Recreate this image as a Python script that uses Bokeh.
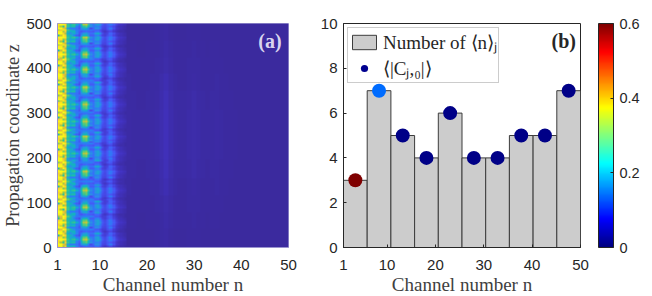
import numpy as np
from bokeh.embed import file_html
from bokeh.resources import INLINE
from bokeh.plotting import figure
from bokeh.layouts import row
from bokeh.models import (LinearColorMapper, ColorBar, FixedTicker, Label, Legend, LegendItem,
                          ColumnDataSource)
from bokeh.transform import linear_cmap

# ---- data ----
x_ticks = [1, 10, 20, 30, 40, 50]
z_ticks = [0, 100, 200, 300, 400, 500]
count_ticks = [0, 2, 4, 6, 8, 10]
cbar_ticks = [0, 0.2, 0.4, 0.6]

bin_left = [1, 5.9, 10.8, 15.7, 20.6, 25.5, 30.4, 35.3, 40.2, 45.1]
bin_right = [5.9, 10.8, 15.7, 20.6, 25.5, 30.4, 35.3, 40.2, 45.1, 50]
bin_count = [3, 7, 5, 4, 6, 4, 4, 5, 5, 7]
bin_center = [3.45, 8.35, 13.25, 18.15, 23.05, 27.95, 32.85, 37.75, 42.65, 47.55]
coupling = [0.6, 0.14, 0.005, 0.005, 0.005, 0.005, 0.005, 0.005, 0.005, 0.005]

# intensity across n = 1, 1.5, ... 15.5 at typical propagation phases (0..1 of the colour range)
profiles = {
    "A": [.97, 1, .98, .95, .6, .5, .58, .6, .45, .3, .55, .75, .8, .62, .35, .28, .35, .42, .35, .2, .15, .2, .28, .28, .2, .12, .08, .06, .05, .04],
    "B": [.9, .95, .7, .8, .55, .42, .45, .45, .3, .25, .5, .65, .68, .5, .3, .25, .38, .42, .3, .18, .14, .2, .3, .26, .18, .1, .07, .05, .04, .03],
    "C": [.55, .8, .98, .9, .55, .5, .4, .3, .2, .15, .35, .5, .52, .35, .2, .2, .3, .32, .22, .12, .1, .15, .2, .2, .12, .08, .05, .04, .03, .02],
    "D": [1, 1, .9, .75, .45, .35, .42, .45, .32, .18, .28, .38, .42, .32, .25, .28, .4, .45, .32, .16, .1, .12, .22, .22, .15, .08, .06, .04, .03, .02],
    "E": [.95, .97, .75, .88, .55, .45, .5, .5, .3, .2, .18, .22, .26, .22, .2, .18, .24, .26, .18, .1, .07, .1, .14, .14, .08, .05, .03, .02, .02, .01],
    "F": [.7, .85, 1, .95, .65, .55, .4, .35, .28, .25, .28, .3, .3, .3, .3, .25, .2, .2, .15, .1, .1, .16, .2, .18, .1, .06, .04, .03, .02, .01],
    "G": [1, 1, .85, .8, .4, .3, .3, .3, .25, .18, .35, .42, .45, .3, .15, .22, .35, .35, .25, .14, .12, .18, .28, .28, .16, .08, .06, .04, .03, .02],
    "H": [.95, .75, .6, .9, .6, .5, .55, .55, .3, .2, .45, .6, .65, .5, .35, .28, .3, .32, .25, .16, .14, .18, .2, .18, .14, .08, .05, .04, .03, .02],
}
# which profile each z-row (bottom to top) looks like
row_sequence = ("EGHBA" "BCDEFGHBA" "BCFEDGHA" "BCDFEGHBA" "BCDEFEGHBA" "HCDEFDGHBA"
                "BCDEFGHBA" "CDFEGHBA" "BCDEFGHB" "ABCDEFGHB" "ABCDFEDGHB" "ABCDEFHB"
                "ABCDEFGHB" "ACDEFGH" "A")
# faint channels 16..50
far_channels = [.012, .01, .008, .008, .01, .012, .016, .028, .045, .025, .012, .01, .01, .016,
                .022, .016, .01, .008, .01, .012, .008, .006, .005, .004, .003, .002, .002, .002,
                .002, .002, .001, .001, .001, .001, .001]
# how strongly the faint channels show along z
far_envelope = [.3, .4, .5, .7, .9, 1.0, 1.0, 1.0, .9, .7, .5, .4, .3]

parula = ["#3b2a9e", "#4233c4", "#4743e0", "#4654f3", "#3f68fb", "#2d7cf5", "#2b8fe6", "#1fa1d9",
          "#11afc9", "#16b9b3", "#2dc29a", "#55c97a", "#86cc5a", "#b4c73f", "#dac036", "#f5c53a",
          "#f9de26", "#f9fb15"]
jet = ["#00007f", "#0000ff", "#007fff", "#00ffff", "#7fff7f", "#ffff00", "#ff7f00", "#ff0000", "#7f0000"]

def ramp(colors, n=256):
    rgb = np.array([[int(c[i:i+2], 16) for i in (1, 3, 5)] for c in colors], float)
    t = np.linspace(0, 1, len(colors))
    tt = np.linspace(0, 1, n)
    out = np.stack([np.interp(tt, t, rgb[:, k]) for k in range(3)], axis=1).astype(int)
    return ["#%02x%02x%02x" % tuple(v) for v in out]

PAR = ramp(parula)
JET = ramp(jet)

TICK = "#262626"
SERIF = "Liberation Serif"
SANS = "Liberation Sans"

# ---- panel (a) ----
rows = []
for i, key in enumerate(row_sequence):
    env = far_envelope[int(i * len(far_envelope) / len(row_sequence))]
    far_half = [v * env for v in far_channels for _ in (0, 1)]
    rows.append(list(profiles[key]) + far_half)
grid = np.array(rows)

def style(p):
    p.xaxis.ticker = FixedTicker(ticks=x_ticks)
    for ax in (p.xaxis[0], p.yaxis[0]):
        ax.major_label_text_font = SANS
        ax.major_label_text_font_size = "15px"
        ax.major_label_text_color = TICK
        ax.axis_label_text_font = SERIF
        ax.axis_label_text_font_size = "19px"
        ax.axis_label_text_font_style = "normal"
        ax.axis_label_text_color = "#404040"
        ax.major_tick_in = 3
        ax.major_tick_out = 0
        ax.minor_tick_line_color = None
        ax.major_tick_line_color = TICK
        ax.axis_line_color = TICK
        ax.major_label_standoff = 6
        ax.axis_label_standoff = 0
    p.xaxis[0].major_label_standoff = 12
    p.xaxis[0].axis_label_standoff = 1
    p.xgrid.visible = False
    p.ygrid.visible = False

a = figure(frame_width=231, frame_height=224, x_range=(1, 50), y_range=(0, 500),
           min_border_left=50, min_border_right=29, min_border_top=23, min_border_bottom=30,
           output_backend="svg", toolbar_location=None,
           x_axis_label="Channel number n", y_axis_label="Propagation coordinate z")
a.image(image=[grid], x=1, y=0, dw=49, dh=500,
        color_mapper=LinearColorMapper(palette=PAR, low=0, high=1))
style(a)
a.yaxis.ticker = FixedTicker(ticks=z_ticks)
a.yaxis[0].axis_label_text_font_size = "18.3px"
a.axis.axis_line_color = "#9a93cf"
a.axis.major_tick_line_color = None
a.outline_line_color = "#9a93cf"
a.add_layout(Label(x=43.6, y=462, text="(a)", text_baseline="middle",
                   text_font=SERIF, text_font_style="bold", text_font_size="20px",
                   text_color="#d9d5ee"))

# ---- panel (b) ----
b = figure(frame_width=237, frame_height=224, x_range=(1, 50), y_range=(0, 10),
           min_border_left=22, min_border_right=57, min_border_top=23, min_border_bottom=30,
           output_backend="svg", toolbar_location=None,
           x_axis_label="Channel number n")
src = ColumnDataSource(dict(left=bin_left, right=bin_right, top=bin_count,
                            xc=bin_center, c=coupling))
bars = b.quad(left="left", right="right", bottom=0, top="top", source=src,
              fill_color="#cccccc", line_color="#3c3c3c", line_width=1)
dots = b.scatter("xc", "top", source=src, size=14, line_color=None,
                 fill_color=linear_cmap("c", JET, 0, 0.6))
style(b)
b.yaxis.ticker = FixedTicker(ticks=count_ticks)
b.outline_line_color = TICK
key_dot = b.scatter(x=[-100], y=[-100], size=6, color="#00008f", line_color=None)
legend = Legend(items=[LegendItem(label="Number of ⟨n⟩ⱼ", renderers=[bars]),
                       LegendItem(label="⟨|Cⱼ,₀|⟩", renderers=[key_dot])],
                location="top_left", orientation="vertical", margin=4, padding=1, spacing=0,
                glyph_width=30, glyph_height=18, label_standoff=4,
                label_text_font=SERIF, label_text_font_size="19px", label_text_color=TICK,
                border_line_color="#9a9a9a", background_fill_alpha=1)
b.add_layout(legend, "center")
b.add_layout(Label(x=44, y=9.24, text="(b)", text_baseline="middle",
                   text_font=SERIF, text_font_style="bold", text_font_size="20px",
                   text_color=TICK))
cb = ColorBar(color_mapper=LinearColorMapper(palette=JET, low=0, high=0.6),
              ticker=FixedTicker(ticks=cbar_ticks), width=15, height=224, padding=0,
              margin=0, location=(18, 0),
              major_label_text_font=SANS, major_label_text_font_size="14.5px",
              major_label_text_color=TICK, major_tick_line_color=TICK, major_tick_in=3,
              bar_line_color=TICK, label_standoff=6, background_fill_alpha=0)
cb.major_label_overrides = {0: "0", 0.2: "0.2", 0.4: "0.4", 0.6: "0.6"}
b.add_layout(cb, "right")

page = row(a, b)
open("out.html", "w").write(file_html(page, INLINE))
